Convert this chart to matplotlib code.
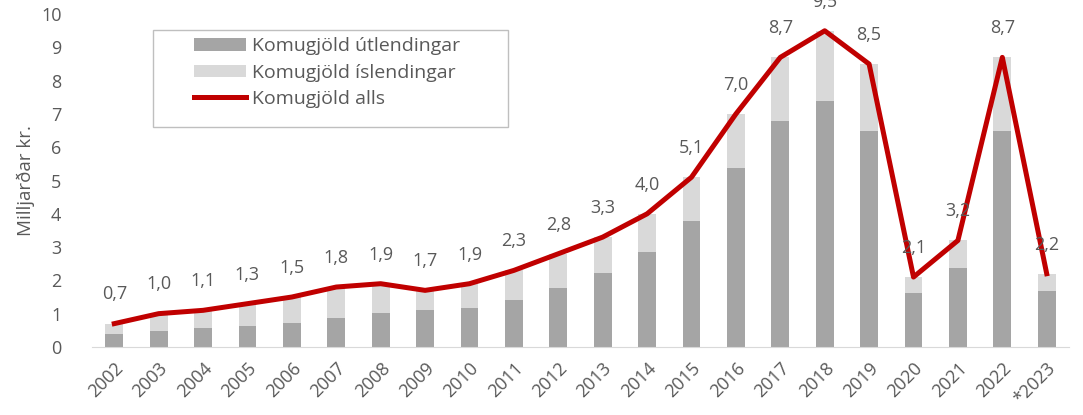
import matplotlib.pyplot as plt
from matplotlib.patches import Rectangle

plt.rcParams["font.family"] = ["Open Sans", "DejaVu Sans"]

years = ["2002", "2003", "2004", "2005", "2006", "2007", "2008", "2009", "2010",
         "2011", "2012", "2013", "2014", "2015", "2016", "2017", "2018", "2019",
         "2020", "2021", "2022", "*2023"]

# billions ISK
utlendingar = [0.40, 0.48, 0.56, 0.63, 0.71, 0.86, 1.03, 1.10, 1.17, 1.41, 1.76,
               2.23, 2.84, 3.77, 5.39, 6.78, 7.40, 6.50, 1.61, 2.38, 6.48, 1.68]
islendingar = [0.30, 0.52, 0.54, 0.67, 0.79, 0.94, 0.87, 0.60, 0.73, 0.89, 1.04,
               1.07, 1.16, 1.33, 1.61, 1.92, 2.10, 2.00, 0.49, 0.82, 2.22, 0.52]
alls = [0.7, 1.0, 1.1, 1.3, 1.5, 1.8, 1.9, 1.7, 1.9, 2.3, 2.8, 3.3, 4.0, 5.1,
        7.0, 8.7, 9.5, 8.5, 2.1, 3.2, 8.7, 2.2]

text_col = "#595959"
x = list(range(len(years)))

fig = plt.figure(figsize=(10.83, 4.15), dpi=100)
ax = fig.add_axes([0.085, 0.164, 0.902, 0.802])

b1 = ax.bar(x, utlendingar, width=0.4, color="#a5a5a5")
b2 = ax.bar(x, islendingar, width=0.4, bottom=utlendingar, color="#d9d9d9")
ln, = ax.plot(x, alls, color="#c00000", linewidth=3.6)

for xi, v in zip(x, alls):
    ax.annotate(f"{v:.1f}".replace(".", ","), (xi, v), xytext=(0, 21),
                textcoords="offset points", ha="center", va="center",
                fontsize=13, color=text_col, annotation_clip=False)

ax.set_xlim(-0.5, len(years) - 0.5)
ax.set_ylim(0, 10)
ax.set_yticks(range(0, 11))
ax.set_xticks(x)
ax.set_xticklabels(years, rotation=45, ha="right", rotation_mode="anchor")
ax.tick_params(axis="both", length=0, labelsize=13, labelcolor=text_col)
ax.tick_params(axis="y", pad=22)
ax.tick_params(axis="x", pad=9)
ax.set_ylabel("Milljarðar kr.", fontsize=13.5, color=text_col, labelpad=4)

for s in ["top", "right", "left"]:
    ax.spines[s].set_visible(False)
ax.spines["bottom"].set_color("#d9d9d9")

# legend box drawn separately (wide left padding as in the original)
ax.add_patch(Rectangle((0.0624, 0.661), 0.363, 0.291, transform=ax.transAxes,
                       facecolor="white", edgecolor="#bfbfbf", linewidth=1.0,
                       zorder=4))
leg = ax.legend([b1, b2, ln],
                ["Komugjöld útlendingar", "Komugjöld íslendingar", "Komugjöld alls"],
                loc="upper left", bbox_to_anchor=(0.104, 0.93), fontsize=14,
                frameon=False, borderpad=0, borderaxespad=0,
                handlelength=2.7, handleheight=0.6, labelspacing=0.42,
                handletextpad=0.3)
leg.set_zorder(5)
for t in leg.get_texts():
    t.set_color(text_col)

fig.savefig("out.png", dpi=100)
